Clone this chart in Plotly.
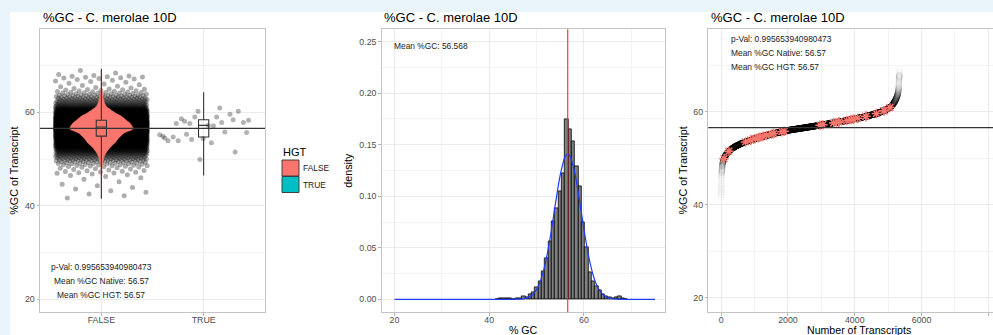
import numpy as np
import plotly.graph_objects as go

W, H = 993, 335

# ---------------- data ----------------
TITLE = "%GC - C. merolae 10D"
HGT_LEVELS = ["FALSE", "TRUE"]
HGT_POSITIONS = [1, 2]
HGT_COLORS = ["#F8766D", "#00BFC4"]

# histogram of %GC (panel 2): regular bins, density per bin
HIST_BIN_START = 41.3
HIST_BIN_WIDTH = 0.7
HIST_DENSITY = [0.0003, 0.0006, 0.0006, 0.0006, 0.0006, 0.0003, 0.0006, 0.0010, 0.0025, 0.0020,
                0.0045, 0.0070, 0.0120, 0.0170, 0.0270, 0.0400, 0.0560, 0.0760, 0.0880, 0.1050,
                0.1220, 0.1750, 0.1650, 0.1530, 0.1290, 0.1100, 0.0750, 0.0500, 0.0260, 0.0170,
                0.0130, 0.0090, 0.0050, 0.0030, 0.0015, 0.0010, 0.0015, 0.0025, 0.0006, 0.0003]

# blue density curve (panel 2)
CURVE_X = [20, 30, 40, 44, 46, 47, 48, 49, 50, 51, 52, 53, 54, 55, 56, 56.57,
           57, 58, 59, 60, 61, 62, 63, 64, 65, 66, 67, 69, 75]
CURVE_Y = [0, 0, 0, 0.00001, 0.00013, 0.00046, 0.00144, 0.00394, 0.00953, 0.0203, 0.0383,
           0.0636, 0.0934, 0.1209, 0.1382, 0.141, 0.1394, 0.1241, 0.0975, 0.0677, 0.0414,
           0.0224, 0.0107, 0.0045, 0.00167, 0.00055, 0.00016, 0.00001, 0]

MEAN_GC = 56.568
N_TRANSCRIPTS = 5340

# %GC of the HGT (TRUE) transcripts
HGT_GC = [54.2, 58.3, 57.1, 53.9, 51.5, 49.9, 54.5, 57.8, 55.3, 57.8,
          57.2, 54.7, 59.6, 59.0, 55.2, 59.0, 58.6, 60.2, 54.4, 53.9,
          55.8, 57.6, 55.7, 53.5, 57.6, 58.4, 60.2, 54.9, 60.9, 58.1]

# boxplot statistics (FALSE, TRUE)
BOX_Q1 = [54.9, 54.7]
BOX_MEDIAN = [56.85, 57.2]
BOX_Q3 = [58.3, 58.4]
BOX_LOW = [41.5, 46.5]
BOX_HIGH = [69.3, 64.3]

PVAL_TEXT = "p-Val: 0.995653940980473"
NATIVE_TEXT = "Mean %GC Native: 56.57"
HGT_TEXT = "Mean %GC HGT: 56.57"
MEAN_TEXT = "Mean %GC: 56.568"

# ---------------- derived values ----------------
dens = np.array(HIST_DENSITY)
bin_left = HIST_BIN_START + HIST_BIN_WIDTH * np.arange(len(dens))
bin_center = bin_left + HIST_BIN_WIDTH / 2

n_native = N_TRANSCRIPTS - len(HGT_GC)
raw = dens / dens.sum() * n_native
counts = np.floor(raw).astype(int)
rest = n_native - counts.sum()
counts[np.argsort(-(raw - counts))[:rest]] += 1
native = []
for lo, c in zip(bin_left, counts):
    if c > 0:
        native.extend(lo + (np.arange(c) + 0.5) / c * HIST_BIN_WIDTH)
native = np.array(native)
hgt = np.array(HGT_GC)

phi = (np.sqrt(5) - 1) / 2


def jitter(n, offset):
    return ((np.arange(n) * phi + offset) % 1.0 - 0.5) * 0.9


all_vals = np.concatenate([native, hgt])
is_hgt = np.concatenate([np.zeros(len(native), bool), np.ones(len(hgt), bool)])
order = np.argsort(all_vals, kind="stable")
sorted_vals = all_vals[order]
sorted_flag = is_hgt[order]
ranks = np.arange(1, len(sorted_vals) + 1)


def px(x):
    return x / W


def py(y):
    return 1 - y / H


YDOM = [py(312.3), py(29.3)]
X1DOM = [px(40), px(265)]
X2DOM = [px(381.7), px(665)]
X3DOM = [px(708.3), 1.0]
X1RANGE = [0.4, 2.6]
Y1RANGE = [17.22, 77.75]

fig = go.Figure()

# ---- panel 1: jittered points on base axes ----
fig.add_trace(go.Scatter(
    x=HGT_POSITIONS[0] + jitter(len(native), 0.13), y=native, mode="markers",
    marker=dict(color="rgba(0,0,0,0.32)", size=5, line=dict(width=0)),
    xaxis="x", yaxis="y", hoverinfo="skip", showlegend=False))
fig.add_trace(go.Scatter(
    x=HGT_POSITIONS[1] + jitter(len(hgt), 0.37), y=hgt, mode="markers",
    marker=dict(color="rgba(0,0,0,0.3)", size=5, line=dict(width=0)),
    xaxis="x", yaxis="y", hoverinfo="skip", showlegend=False))
# violin + box on an overlaying pair of axes so they sit above the points
fig.add_trace(go.Violin(
    x0=HGT_POSITIONS[0], y=native, width=0.62, bandwidth=0.3, spanmode="hard",
    scalemode="width", fillcolor=HGT_COLORS[0], line=dict(color=HGT_COLORS[0], width=0.5),
    points=False, box_visible=False, meanline_visible=False, opacity=1,
    xaxis="x4", yaxis="y4", hoverinfo="skip", showlegend=False))
fig.add_trace(go.Box(
    x=HGT_POSITIONS, q1=BOX_Q1, median=BOX_MEDIAN, q3=BOX_Q3,
    lowerfence=BOX_LOW, upperfence=BOX_HIGH, width=0.1, whiskerwidth=0,
    fillcolor="rgba(0,0,0,0)", line=dict(color="#333333", width=1.1), boxpoints=False,
    xaxis="x4", yaxis="y4", hoverinfo="skip", showlegend=False))

# ---- panel 2 ----
fig.add_trace(go.Bar(
    x=bin_center, y=dens, width=HIST_BIN_WIDTH,
    marker=dict(color="#808080", line=dict(color="black", width=0.8)),
    xaxis="x2", yaxis="y2", hoverinfo="skip", showlegend=False))
fig.add_trace(go.Scatter(
    x=CURVE_X, y=CURVE_Y, mode="lines",
    line=dict(color="#1f3bff", width=1.2, shape="spline", smoothing=0.8),
    xaxis="x2", yaxis="y2", hoverinfo="skip", showlegend=False))

# ---- panel 3 ----
fig.add_trace(go.Scatter(
    x=ranks, y=sorted_vals, mode="markers",
    marker=dict(symbol="circle-open", size=6, color="rgba(0,0,0,0.04)", line=dict(width=1)),
    xaxis="x3", yaxis="y3", hoverinfo="skip", showlegend=False))
fig.add_trace(go.Scatter(
    x=ranks[sorted_flag], y=sorted_vals[sorted_flag], mode="markers",
    marker=dict(symbol="asterisk-open", size=8, color=HGT_COLORS[0],
                line=dict(width=1.4, color=HGT_COLORS[0])),
    xaxis="x3", yaxis="y3", hoverinfo="skip", showlegend=False))

# ---------------- axes ----------------
base = dict(showgrid=True, gridcolor="#ebebeb", gridwidth=1, zeroline=False,
            showline=True, linecolor="#c4c4c4", linewidth=1, mirror=True,
            ticks="outside", ticklen=2.5, tickcolor="#b3b3b3", tickwidth=1,
            tickfont=dict(size=8.8, color="#4d4d4d"), fixedrange=True)
xbase = dict(base, ticklabelstandoff=-3)


def minor(d):
    return dict(dtick=d, showgrid=True, gridcolor="#f4f4f4", gridwidth=0.6)


fig.update_layout(
    xaxis=dict(xbase, domain=X1DOM, anchor="y", type="linear", range=X1RANGE,
               tickvals=HGT_POSITIONS, ticktext=HGT_LEVELS),
    yaxis=dict(base, domain=YDOM, anchor="x", range=Y1RANGE, tick0=0, dtick=20, minor=minor(10)),
    xaxis4=dict(overlaying="x", anchor="y4", type="linear", range=X1RANGE, visible=False,
                showgrid=False, zeroline=False, fixedrange=True),
    yaxis4=dict(overlaying="y", anchor="x4", range=Y1RANGE, visible=False,
                showgrid=False, zeroline=False, fixedrange=True),
    xaxis2=dict(xbase, domain=X2DOM, anchor="y2", range=[17.3, 77.1], tick0=0, dtick=20, minor=minor(10)),
    yaxis2=dict(base, domain=YDOM, anchor="x2", range=[-0.0126, 0.262], tick0=0, dtick=0.05,
                tickformat=".2f", minor=minor(0.025)),
    xaxis3=dict(xbase, domain=X3DOM, anchor="y3", range=[-385, 8140], tick0=0, dtick=2000, minor=minor(1000)),
    yaxis3=dict(base, domain=YDOM, anchor="x3", range=[16.9, 77.7], tick0=0, dtick=20,
                minor=minor(10), mirror=False),
)

# ---------------- shapes ----------------
shapes = [
    dict(type="rect", xref="paper", yref="paper", x0=px(10), x1=1, y0=0, y1=py(12),
         fillcolor="white", line=dict(width=0), layer="below"),
    dict(type="line", xref="x domain", yref="y", x0=0, x1=1, y0=MEAN_GC, y1=MEAN_GC,
         line=dict(color="#333333", width=1.2)),
    dict(type="line", xref="x3 domain", yref="y3", x0=0, x1=1, y0=MEAN_GC, y1=MEAN_GC,
         line=dict(color="#333333", width=1.2)),
    dict(type="line", xref="x2", yref="y2 domain", x0=MEAN_GC, x1=MEAN_GC, y0=0, y1=1,
         line=dict(color="#ff2a1a", width=1.1)),
]
# legend keys
for i, col in enumerate(HGT_COLORS):
    top = 160 + i * 16.5
    shapes.append(dict(type="rect", xref="paper", yref="paper", x0=px(282), x1=px(299),
                       y0=py(top + 16), y1=py(top), fillcolor=col,
                       line=dict(color="#333333", width=0.9)))
fig.update_layout(shapes=shapes)

# ---------------- texts ----------------
ann = []
for xl in [40.7, 382.3, 709]:
    ann.append(dict(text=TITLE, xref="paper", yref="paper", x=px(xl), y=py(17.3),
                    xanchor="left", yanchor="middle", showarrow=False,
                    font=dict(size=13, color="black")))
ycen = (YDOM[0] + YDOM[1]) / 2
for xl, t in [(14, "%GC of Transcript"), (348, "density"), (682.7, "%GC of Transcript")]:
    ann.append(dict(text=t, xref="paper", yref="paper", x=px(xl), y=ycen, textangle=-90,
                    xanchor="center", yanchor="middle", showarrow=False,
                    font=dict(size=10.8, color="black")))
for xc, t in [(523.3, "% GC"), (859, "Number of Transcripts")]:
    ann.append(dict(text=t, xref="paper", yref="paper", x=px(xc), y=py(329.8),
                    xanchor="center", yanchor="middle", showarrow=False,
                    font=dict(size=10.6, color="black")))
tf = dict(size=8.4, color="#1a1a1a")
for yv, t in [(26.9, PVAL_TEXT), (23.9, NATIVE_TEXT), (20.9, HGT_TEXT)]:
    ann.append(dict(text=t, xref="x", yref="y", x=HGT_POSITIONS[0], y=yv,
                    xanchor="center", yanchor="middle", showarrow=False, font=tf))
for yv, t in [(75.6, PVAL_TEXT), (72.7, NATIVE_TEXT), (69.7, HGT_TEXT)]:
    ann.append(dict(text=t, xref="x3", yref="y3", x=240, y=yv,
                    xanchor="left", yanchor="middle", showarrow=False, font=tf))
ann.append(dict(text=MEAN_TEXT, xref="x2", yref="y2", x=19.5, y=0.2455,
                xanchor="left", yanchor="middle", showarrow=False, font=tf))
# legend texts
ann.append(dict(text="HGT", xref="paper", yref="paper", x=px(281.2), y=py(151.7),
                xanchor="left", yanchor="middle", showarrow=False, font=dict(size=11, color="black")))
for i, lab in enumerate(HGT_LEVELS):
    ann.append(dict(text=lab, xref="paper", yref="paper", x=px(301), y=py(168.3 + i * 16.5),
                    xanchor="left", yanchor="middle", showarrow=False,
                    font=dict(size=8.4, color="#1a1a1a")))
fig.update_layout(annotations=ann)

fig.update_layout(
    width=W, height=H, autosize=False, margin=dict(l=0, r=0, t=0, b=0),
    paper_bgcolor="#e9f4fb", plot_bgcolor="white", hovermode=False,
    font=dict(family="Liberation Sans, Arial, sans-serif"),
    bargap=0, boxmode="overlay", violinmode="overlay",
)

fig.write_html("out.html", config={"displayModeBar": False})
